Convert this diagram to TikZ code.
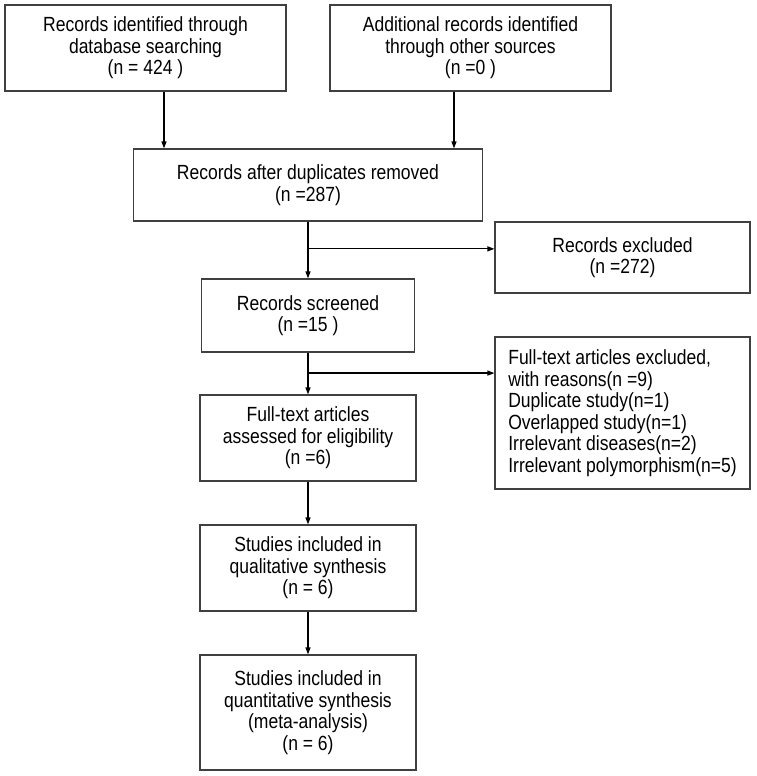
\documentclass[tikz,border=0pt]{standalone}
\usepackage{fontspec}
\setmainfont{Liberation Sans}[FakeStretch=0.855]
\usetikzlibrary{calc,arrows.meta}

\tikzset{
  box/.style={draw=black!75, line width=1.2pt, align=center, inner sep=2pt,
    font=\fontsize{20.5}{21.5}\selectfont},
  arr/.style={line width=1.2pt, -{Triangle[length=7pt,width=5pt]}},
}

\begin{document}
\begin{tikzpicture}[x=1pt, y=-1pt]
		%%%%% START %%%%%
		\useasboundingbox (0,0) rectangle (756,776);
		
		\node[box, minimum width=281pt, minimum height=86pt] (ident) at (145.5, 48) {Records identified through\\database searching\\(n = 424 )};
		\node[box, minimum width=281pt, minimum height=86pt] (other) at (470.5, 48) {Additional records identified\\through other sources\\(n =0 )};
		
		\node[box, minimum width=349pt, minimum height=72pt] (dedup) at (308, 185) {Records after duplicates removed\\(n =287)};
		\node[box, minimum width=255pt, minimum height=71pt] (excl) at (622.5, 257.5) {Records excluded\\(n =272)};
		
		\node[box, minimum width=213pt, minimum height=73pt] (screen) at (308, 315.5) {Records screened\\(n =15 )};
		\node[box, minimum width=255pt, minimum height=152pt, align=left] (ftexcl) at (622.5, 413) {Full-text articles excluded,\\with reasons(n =9)\\Duplicate study(n=1)\\Overlapped study(n=1)\\Irrelevant diseases(n=2)\\Irrelevant polymorphism(n=5)};
		
		\node[box, minimum width=216pt, minimum height=86pt] (elig) at (308, 438) {Full-text articles\\assessed for eligibility\\(n =6)};
		\node[box, minimum width=216pt, minimum height=86pt] (qual) at (308, 568) {Studies included in\\qualitative synthesis\\(n = 6)};
		\node[box, minimum width=216pt, minimum height=115pt] (quant) at (308, 712.5) {Studies included in\\quantitative synthesis\\(meta-analysis)\\(n = 6)};
		
		\coordinate (a1) at ([xshift=18.5pt]ident.south);
		\coordinate (a2) at ([xshift=-16.5pt]other.south);
		\draw[arr] (a1) -- (a1 |- dedup.north);
		\draw[arr] (a2) -- (a2 |- dedup.north);
		
		\coordinate (b1) at ($(dedup.south)!0.48!(screen.north)$);
		\coordinate (b2) at ($(screen.south)!0.49!(elig.north)$);
		\draw[arr] (dedup.south) -- (screen.north);
		\draw[arr] (b1) -- (b1 -| excl.west);
		\draw[arr] (screen.south) -- (elig.north);
		\draw[arr] (b2) -- (b2 -| ftexcl.west);
		
		\draw[arr] (elig) -- (qual);
		\draw[arr] (qual) -- (quant);
		%%%%% END %%%%%
\end{tikzpicture}
\end{document}
